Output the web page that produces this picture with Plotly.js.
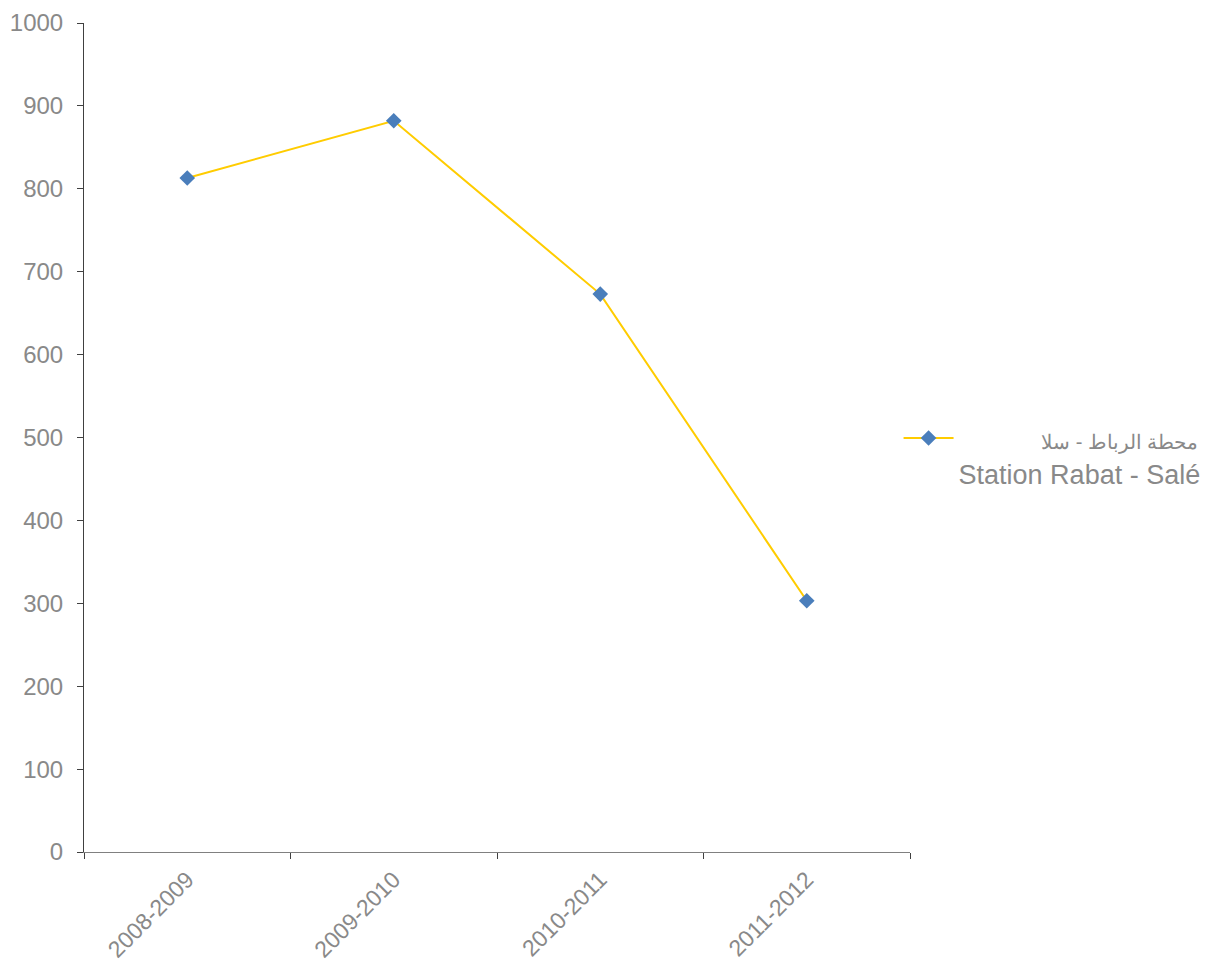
<!DOCTYPE html>
<html>
<head>
<meta charset="utf-8">
<script src="https://cdn.plot.ly/plotly-3.0.1.min.js"></script>
<style>body{margin:0;background:#fff}#chart{width:1211px;height:967px}</style>
</head>
<body>
<div id="chart"></div>
<script>
const categories = ["2008-2009", "2009-2010", "2010-2011", "2011-2012"];
const values = [813, 882, 673, 303];
const seriesNameAr = "محطة الرباط - سلا";
const seriesNameFr = "Station Rabat - Salé";
const yTicks = [0, 100, 200, 300, 400, 500, 600, 700, 800, 900, 1000];

const pad = "\u00A0".repeat(11);
const trace = {
  x: categories,
  y: values,
  type: "scatter",
  mode: "lines+markers",
  name: pad + '<span style="font-size:20px">' + seriesNameAr + "</span><br>" + seriesNameFr,
  line: {color: "#FFCC00", width: 2},
  marker: {symbol: "diamond", color: "#4A7EBB", size: 12}
};

const layout = {
  width: 1211, height: 967,
  margin: {l: 84, r: 301, t: 23, b: 115, autoexpand: false},
  paper_bgcolor: "#ffffff", plot_bgcolor: "#ffffff",
  font: {family: "Liberation Sans, Arial, sans-serif", color: "#898989", size: 24},
  showlegend: true,
  legend: {
    xref: "container", yref: "container",
    x: 0.742, y: 1 - 414/967, xanchor: "left", yanchor: "top",
    valign: "top",
    font: {size: 27, color: "#898989"},
    itemwidth: 50
  },
  xaxis: {
    type: "category",
    range: [-0.5, 3.5],
    tickson: "boundaries",
    ticks: "outside", ticklen: 6, tickcolor: "#404040",
    showline: true, linecolor: "#808080", linewidth: 1,
    showgrid: false, zeroline: false,
    tickangle: -45,
    ticklabelstandoff: 4,
    tickfont: {size: 23, color: "#898989"}
  },
  yaxis: {
    range: [0, 1000],
    tickvals: yTicks,
    ticks: "outside", ticklen: 6, tickcolor: "#404040",
    showline: true, linecolor: "#404040", linewidth: 1,
    showgrid: false, zeroline: false,
    ticklabelstandoff: 9,
    tickfont: {size: 24, color: "#898989"}
  }
};

Plotly.newPlot("chart", [trace], layout, {displayModeBar: false, staticPlot: true});
</script>
</body>
</html>
